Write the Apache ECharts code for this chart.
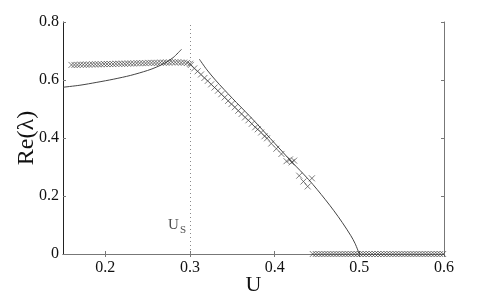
<!DOCTYPE html>
<html><head><meta charset="utf-8">
<script src="https://cdn.jsdelivr.net/npm/echarts@6/dist/echarts.min.js"></script>
<style>html,body{margin:0;padding:0;background:#fff}#c{width:491px;height:295px}</style>
</head><body><div id="c"></div>
<script>
// ---- data ----
const xTicks = [0.2, 0.3, 0.4, 0.5, 0.6];
const yTicks = [0, 0.2, 0.4, 0.6, 0.8];
const Us = 0.3;

const flatU = [0.160,0.1635,0.167,0.1705,0.174,0.1775,0.181,0.1845,0.188,0.1915,0.195,0.1985,0.202,0.2055,0.209,0.2125,0.216,0.2195,0.223,0.2265,0.230,0.2335,0.237,0.2405,0.244,0.2475,0.251,0.2545,0.258,0.2615,0.265,0.2685,0.272,0.2755,0.279,0.2825,0.286,0.2895,0.293,0.2965,0.300];
const flatRe = [0.652,0.652,0.652,0.653,0.653,0.653,0.653,0.654,0.654,0.654,0.654,0.655,0.655,0.655,0.655,0.656,0.656,0.656,0.656,0.657,0.657,0.657,0.658,0.658,0.658,0.658,0.659,0.659,0.659,0.659,0.660,0.660,0.660,0.660,0.661,0.661,0.661,0.660,0.660,0.659,0.656];

const zeroU = [0.445,0.4485,0.452,0.4555,0.459,0.4625,0.466,0.4695,0.473,0.4765,0.480,0.4835,0.487,0.4905,0.494,0.4975,0.501,0.5045,0.508,0.5115,0.515,0.5185,0.522,0.5255,0.529,0.5325,0.536,0.5395,0.543,0.5465,0.550,0.5535,0.557,0.5605,0.564,0.5675,0.571,0.5745,0.578,0.5815,0.585,0.5885,0.592,0.5955,0.599];
const zeroRe = [0,0,0,0,0,0,0,0,0,0,0,0,0,0,0,0,0,0,0,0,0,0,0,0,0,0,0,0,0,0,0,0,0,0,0,0,0,0,0,0,0,0,0,0,0];

const dropU = [0.301,0.305,0.309,0.313,0.317,0.321,0.325,0.329,0.333,0.337,0.341,0.345,0.349,0.353,0.357,0.361,0.365,0.369,0.373,0.377,0.380,0.384,0.388,0.391,0.396,0.402,0.408,0.414,0.418,0.420,0.423,0.429,0.434,0.439,0.444];
const dropRe = [0.652,0.640,0.630,0.619,0.607,0.597,0.585,0.574,0.563,0.551,0.540,0.528,0.517,0.506,0.494,0.483,0.471,0.461,0.449,0.437,0.430,0.419,0.406,0.399,0.381,0.363,0.345,0.320,0.326,0.316,0.322,0.270,0.250,0.233,0.261];

const curveAU = [0.15,0.17,0.19,0.21,0.23,0.25,0.26,0.27,0.28,0.29];
const curveARe = [0.575,0.582,0.592,0.603,0.616,0.633,0.644,0.658,0.677,0.706];

const curveBU = [0.311,0.32,0.33,0.34,0.35,0.36,0.37,0.38,0.39,0.40,0.41,0.42,0.43,0.44,0.45,0.46,0.47,0.48,0.49,0.495,0.50];
const curveBRe = [0.672,0.635,0.600,0.568,0.537,0.507,0.477,0.446,0.414,0.382,0.350,0.318,0.288,0.257,0.223,0.187,0.149,0.108,0.063,0.036,0.0];

const usLabelPos = [0.3, 0.10];

// ---- chart ----
const zip = (a, b) => a.map((v, i) => [v, b[i]]);
const fmt = v => (v === 0 ? '0' : String(+v.toFixed(1)));
const FONT = '"Liberation Serif", "Times New Roman", serif';
const cross = 'path://M0,0L10,10M10,0L0,10';
const markerStyle = { color: 'rgba(0,0,0,0)', borderColor: '#333', borderWidth: 0.8 };

const chart = echarts.init(document.getElementById('c'), null, { renderer: 'canvas' });
chart.setOption({
  animation: false,
  grid: { left: 63, right: 47, top: 22, bottom: 41, outerBoundsMode: 'none', containLabel: false },
  xAxis: [{
    type: 'value', min: 0.15, max: 0.6,
    name: 'U', nameLocation: 'middle', nameGap: 20, nameMoveOverlap: false,
    nameTextStyle: { fontFamily: FONT, fontSize: 22, color: '#111' },
    axisLine: { lineStyle: { color: '#777', width: 1 } },
    axisTick: { inside: true, length: 3, customValues: xTicks, lineStyle: { color: '#777' } },
    axisLabel: { customValues: xTicks, formatter: fmt, fontFamily: FONT, fontSize: 16, color: '#111', margin: 6 },
    splitLine: { show: false }
  }, {
    type: 'value', min: 0.15, max: 0.6, position: 'top',
    axisLine: { show: true, lineStyle: { color: '#777', width: 1 } },
    axisTick: { inside: true, length: 3, customValues: xTicks, lineStyle: { color: '#777' } },
    axisLabel: { show: false }, splitLine: { show: false }
  }],
  yAxis: [{
    type: 'value', min: 0, max: 0.8, interval: 0.2,
    name: 'Re(λ)', nameLocation: 'middle', nameGap: 24, nameRotate: 90, nameMoveOverlap: false,
    nameTextStyle: { fontFamily: FONT, fontSize: 24, color: '#111' },
    axisLine: { show: true, lineStyle: { color: '#222', width: 1 } },
    axisTick: { show: true, inside: true, length: 3, lineStyle: { color: '#777' } },
    axisLabel: { formatter: fmt, fontFamily: FONT, fontSize: 16, color: '#111', margin: 4 },
    splitLine: { show: false }
  }, {
    type: 'value', min: 0, max: 0.8, interval: 0.2, position: 'right',
    axisLine: { show: true, lineStyle: { color: '#777', width: 1 } },
    axisTick: { show: true, inside: true, length: 3, lineStyle: { color: '#777' } },
    axisLabel: { show: false }, splitLine: { show: false }
  }],
  series: [
    {
      type: 'line', data: zip(curveAU, curveARe), showSymbol: false, smooth: 0.3,
      lineStyle: { color: '#444', width: 1 }, z: 3,
      markLine: {
        silent: true, symbol: 'none', label: { show: false },
        lineStyle: { type: [1, 3], color: '#888', width: 1 },
        data: [{ xAxis: Us }]
      }
    },
    {
      type: 'line', data: zip(curveBU, curveBRe), showSymbol: false, smooth: 0.3,
      lineStyle: { color: '#444', width: 1 }, z: 3
    },
    { type: 'scatter', data: zip(flatU, flatRe), symbol: cross, symbolSize: 6, itemStyle: markerStyle, clip: false, z: 4 },
    { type: 'scatter', data: zip(zeroU, zeroRe), symbol: cross, symbolSize: 6, itemStyle: markerStyle, clip: false, z: 4 },
    { type: 'scatter', data: zip(dropU, dropRe), symbol: cross, symbolSize: 6, itemStyle: markerStyle, clip: false, z: 4 },
    {
      type: 'scatter', data: [usLabelPos], symbolSize: 0, silent: true,
      label: {
        show: true, position: 'left', distance: 4,
        formatter: 'U{s|S}',
        fontFamily: FONT, fontSize: 15, color: '#222',
        rich: { s: { fontFamily: FONT, fontSize: 11, color: '#222', padding: [10, 0, 0, 1] } }
      }
    }
  ]
});
</script>
</body></html>
